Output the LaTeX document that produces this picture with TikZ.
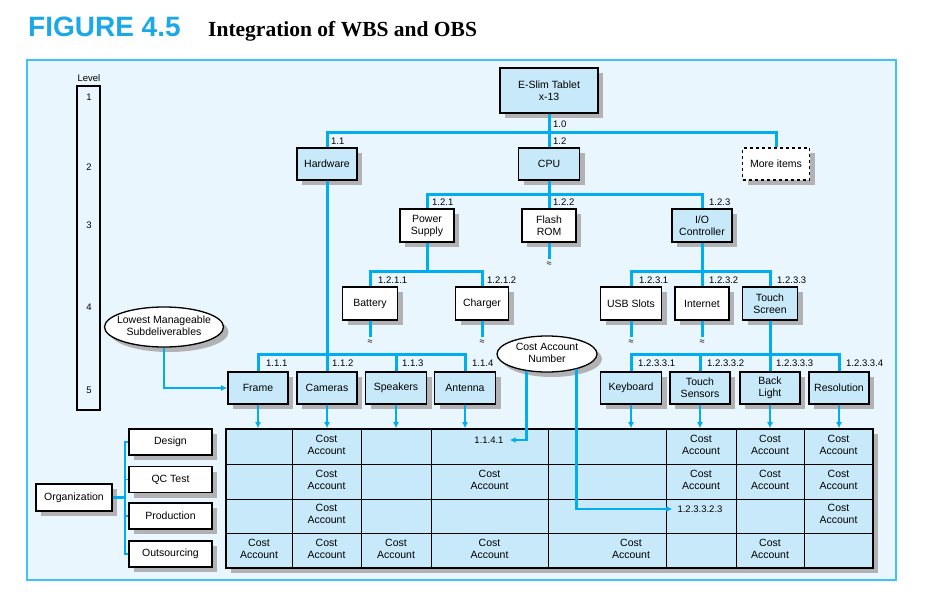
\documentclass[tikz,border=0pt]{standalone}
\usepackage{fontspec}
\setmainfont{Liberation Sans}
\newfontfamily\titleserif{Liberation Serif}
\usetikzlibrary{shapes.geometric,shadows,arrows.meta}
\definecolor{cyanline}{RGB}{0,174,239}
\definecolor{bgblue}{RGB}{234,246,253}
\definecolor{boxblue}{RGB}{200,233,249}
\definecolor{shadowgray}{RGB}{178,178,180}
\definecolor{titlecyan}{RGB}{27,168,232}
\begin{document}
\begin{tikzpicture}[x=1pt,y=-1pt,
  font=\fontsize{10.5}{12}\selectfont,
  shad/.style={drop shadow={shadow xshift=5pt,shadow yshift=-5pt,fill=shadowgray,opacity=1}},
  wbox/.style={draw=black,line width=1.6pt,inner sep=0pt,align=center,shad,fill=white},
  bbox/.style={wbox,fill=boxblue},
  conn/.style={draw=cyanline,line width=3pt},
  arr/.style={draw=cyanline,line width=2.6pt,-{Latex[length=6pt,width=6pt]}},
  lbl/.style={anchor=west,inner sep=0pt,font=\fontsize{9.5}{10}\selectfont},
  apx/.style={inner sep=0pt,font=\fontsize{9}{9}\selectfont},
  oval/.style={ellipse,draw=black,line width=1.3pt,fill=white,inner sep=0pt,shad},
  cell/.style={align=center,inner sep=0pt},
  num/.style={inner sep=0pt,font=\fontsize{9.5}{10}\selectfont},
  gline/.style={draw=black,line width=0.9pt},
]
\useasboundingbox (0,0) rectangle (927,594);
% title
\node[anchor=base west,inner sep=0pt,text=titlecyan,font=\fontsize{28}{30}\selectfont\bfseries] (fig) at (28,37) {FIGURE 4.5};
\node[anchor=base west,inner sep=0pt,font=\titleserif\fontsize{21.5}{24}\selectfont\bfseries] (ttl) at (208,37) {Integration of WBS and OBS};
% frame
\draw[draw=cyanline!75,line width=2pt,fill=bgblue] (27,60) rectangle (896,580);
% level bar
\node[num] (lvl) at (89,78) {Level};
\node[draw=black,line width=1.6pt,minimum width=23pt,minimum height=324pt,inner sep=0pt] (lvlbox) at (88.5,248) {};
\node[num] (l1) at (89,97) {1};
\node[num] (l2) at (89,167) {2};
\node[num] (l3) at (89,225) {3};
\node[num] (l4) at (89,307) {4};
\node[num] (l5) at (89,390) {5};
% WBS nodes
\node[bbox,minimum width=98pt,minimum height=45pt] (top) at (549,90.5) {E-Slim Tablet\\x-13};
\node[bbox,minimum width=60pt,minimum height=32pt] (hw) at (327,164) {Hardware};
\node[bbox,minimum width=61pt,minimum height=32pt] (cpu) at (549,164) {CPU};
\node[wbox,dashed,minimum width=67pt,minimum height=32pt] (more) at (776,164) {More items};
\node[wbox,minimum width=54pt,minimum height=33pt] (ps) at (427,225.5) {Power\\Supply};
\node[wbox,minimum width=54pt,minimum height=33pt] (flash) at (549,225.5) {Flash\\ROM};
\node[bbox,minimum width=60pt,minimum height=33pt] (io) at (702,225.5) {I/O\\Controller};
\node[wbox,minimum width=55pt,minimum height=33pt] (bat) at (370,303.5) {Battery};
\node[wbox,minimum width=53pt,minimum height=33pt] (chg) at (482,303.5) {Charger};
\node[wbox,minimum width=61pt,minimum height=33pt] (usb) at (631,303.5) {USB Slots};
\node[wbox,minimum width=54pt,minimum height=33pt] (net) at (702,303.5) {Internet};
\node[bbox,minimum width=55pt,minimum height=33pt] (ts) at (770,303.5) {Touch\\Screen};
\node[bbox,minimum width=60pt,minimum height=32pt] (frame) at (258,388) {Frame};
\node[bbox,minimum width=60pt,minimum height=32pt] (cam) at (327,388) {Cameras};
\node[bbox,minimum width=61pt,minimum height=32pt] (spk) at (396,388) {Speakers};
\node[bbox,minimum width=61pt,minimum height=32pt] (ant) at (465,388) {Antenna};
\node[bbox,minimum width=61pt,minimum height=32pt] (kb) at (631,388) {Keyboard};
\node[bbox,minimum width=60pt,minimum height=32pt] (tsens) at (700,388) {Touch\\Sensors};
\node[bbox,minimum width=60pt,minimum height=32pt] (bl) at (770,388) {Back\\Light};
\node[bbox,minimum width=60pt,minimum height=32pt] (res) at (839,388) {Resolution};
% labels
\node[lbl] (t10) at (553,124.5) {1.0};
\node[lbl] (t11) at (331,141) {1.1};
\node[lbl] (t12) at (553,141) {1.2};
\node[lbl] (t121) at (432,202) {1.2.1};
\node[lbl] (t122) at (553,202) {1.2.2};
\node[lbl] (t123) at (709,202) {1.2.3};
\node[lbl] (t1211) at (378,280) {1.2.1.1};
\node[lbl] (t1212) at (487,280) {1.2.1.2};
\node[lbl] (t1231) at (639,280) {1.2.3.1};
\node[lbl] (t1232) at (709,280) {1.2.3.2};
\node[lbl] (t1233) at (777,280) {1.2.3.3};
\node[lbl] (t111) at (266,363) {1.1.1};
\node[lbl] (t112) at (332,363) {1.1.2};
\node[lbl] (t113) at (402,363) {1.1.3};
\node[lbl] (t114) at (472,363) {1.1.4};
\node[lbl] (t12331) at (638,363) {1.2.3.3.1};
\node[lbl] (t12332) at (707,363) {1.2.3.3.2};
\node[lbl] (t12333) at (776,363) {1.2.3.3.3};
\node[lbl] (t12334) at (846,363) {1.2.3.3.4};
% tree connectors
\coordinate (j1) at (549,132);
\draw[conn] (top.south) -- (j1);
\draw[conn] (j1) -| (hw.north);
\draw[conn] (j1) -| (more.north);
\draw[conn] (j1) -- (cpu.north);
\coordinate (j2) at (549,194);
\draw[conn] (cpu.south) -- (j2);
\draw[conn] (j2) -| (ps.north);
\draw[conn] (j2) -- (flash.north);
\draw[conn] (j2) -| (io.north);
\coordinate (j3) at (427,271);
\draw[conn] (ps.south) -- (j3);
\draw[conn] (j3) -| (bat.north);
\draw[conn] (j3) -| (chg.north);
\coordinate (j4) at (702,271);
\draw[conn] (io.south) -- (j4);
\draw[conn] (j4) -| (usb.north);
\draw[conn] (j4) -- (net.north);
\draw[conn] (j4) -| (ts.north);
\coordinate (j5) at (327,354);
\draw[conn] (hw.south) -- (j5);
\draw[conn] (j5) -| (frame.north);
\draw[conn] (j5) -- (cam.north);
\draw[conn] (j5) -| (spk.north);
\draw[conn] (j5) -| (ant.north);
\coordinate (j6) at (770,354);
\draw[conn] (ts.south) -- (j6);
\draw[conn] (j6) -| (kb.north);
\draw[conn] (j6) -| (tsens.north);
\draw[conn] (j6) -- (bl.north);
\draw[conn] (j6) -| (res.north);
% stubs
\node[apx] (fa) at (549,264) {≈};
\node[apx] (ba) at (370,342) {≈};
\node[apx] (ca) at (482,342) {≈};
\node[apx] (ua) at (631,342) {≈};
\node[apx] (ia) at (702,342) {≈};
\draw[conn,shorten >=3pt] (flash.south) -- (fa.north);
\draw[conn,shorten >=3pt] (bat.south) -- (ba.north);
\draw[conn,shorten >=3pt] (chg.south) -- (ca.north);
\draw[conn,shorten >=3pt] (usb.south) -- (ua.north);
\draw[conn,shorten >=3pt] (net.south) -- (ia.north);
% grid
\node[draw=black,line width=1.6pt,fill=boxblue,minimum width=647pt,minimum height=139pt,inner sep=0pt,shad] (grid) at (549.5,498.5) {};
\foreach \yy in {464,499,533} \draw[gline] (226,\yy) -- (873,\yy);
\foreach \xx in {292,361,431,548,666,736,804} \draw[gline] (\xx,429) -- (\xx,568);
% cells
\node[cell] (d2) at (326.5,444.5) {Cost\\Account};
\node[cell] (d6) at (701,444.5) {Cost\\Account};
\node[cell] (d7) at (770,444.5) {Cost\\Account};
\node[cell] (d8) at (838.5,444.5) {Cost\\Account};
\node[cell] (q2) at (326.5,479.5) {Cost\\Account};
\node[cell] (q4) at (489.5,479.5) {Cost\\Account};
\node[cell] (q6) at (701,479.5) {Cost\\Account};
\node[cell] (q7) at (770,479.5) {Cost\\Account};
\node[cell] (q8) at (838.5,479.5) {Cost\\Account};
\node[cell] (p2) at (326.5,514) {Cost\\Account};
\node[cell] (p8) at (838.5,514) {Cost\\Account};
\node[cell] (o1) at (259,548.5) {Cost\\Account};
\node[cell] (o2) at (326.5,548.5) {Cost\\Account};
\node[cell] (o3) at (396,548.5) {Cost\\Account};
\node[cell] (o4) at (489.5,548.5) {Cost\\Account};
\node[cell] (o5) at (631,548.5) {Cost\\Account};
\node[cell] (o7) at (770,548.5) {Cost\\Account};
\node[cell,inner xsep=6pt,font=\fontsize{9.5}{10}\selectfont] (n1141) at (489,440) {1.1.4.1};
\node[cell,inner xsep=5pt,font=\fontsize{9.5}{10}\selectfont] (n123) at (700,509) {1.2.3.3.2.3};
% arrows into grid
\foreach \n in {frame,cam,spk,ant,kb,tsens,bl,res}
  \draw[arr] (\n.south) -- (\n.south |- grid.north);
% ellipses
\node[oval,minimum width=119pt,minimum height=40pt] (lms) at (164,327) {\makebox[0pt]{\begin{tabular}{@{}c@{}}Lowest Manageable\\Subdeliverables\end{tabular}}};
\node[oval,minimum width=100pt,minimum height=36pt] (can) at (547,354) {\makebox[0pt]{\begin{tabular}{@{}c@{}}Cost Account\\Number\end{tabular}}};
\draw[arr] (lms.south) |- (frame.west);
\draw[arr] (can.220) |- (n1141.east);
\draw[arr] (can.333) |- (n123.west);
% OBS
\node[wbox,minimum width=76pt,minimum height=27pt] (org) at (74,497.5) {Organization};
\node[wbox,minimum width=83pt,minimum height=26pt] (des) at (170.5,442) {Design};
\node[wbox,minimum width=83pt,minimum height=26pt] (qc) at (170.5,479.5) {QC Test};
\node[wbox,minimum width=83pt,minimum height=26pt] (prod) at (170.5,516) {Production};
\node[wbox,minimum width=83pt,minimum height=26pt] (outs) at (170.5,554) {Outsourcing};
\coordinate (brk) at ([xshift=-3pt]des.west);
\draw[draw=cyanline,line width=1.5pt] (des.west) -- (brk) |- (outs.west);
\draw[draw=cyanline,line width=1.5pt] (qc.west) -- (qc.west -| brk);
\draw[draw=cyanline,line width=1.5pt] (prod.west) -- (prod.west -| brk);
\draw[conn] (org.east) -- (org.east -| brk);
\end{tikzpicture}
\end{document}
